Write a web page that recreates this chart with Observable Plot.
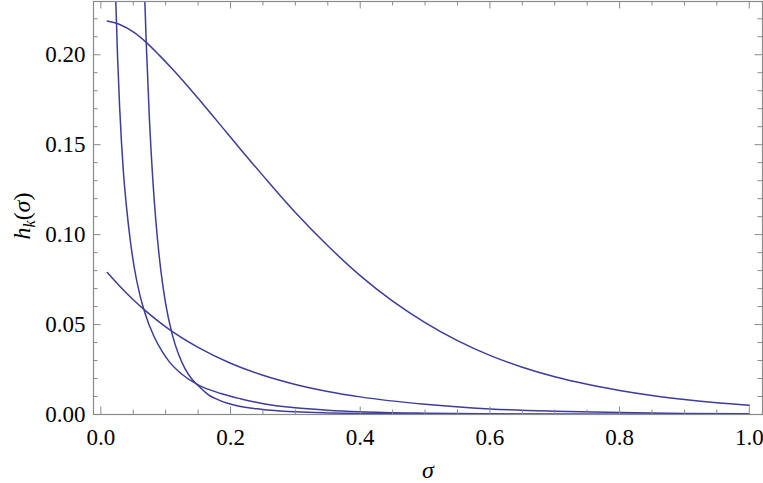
<!DOCTYPE html>
<html>
<head>
<meta charset="utf-8">
<script src="https://cdn.jsdelivr.net/npm/d3@7"></script>
<script src="https://cdn.jsdelivr.net/npm/@observablehq/plot@0.6"></script>
<style>
  html, body { margin: 0; padding: 0; background: #fff; }
  #chart { width: 763px; height: 483px; }
  #chart svg text { font-family: "Liberation Serif", "Times New Roman", Times, serif !important; }
</style>
</head>
<body>
<div id="chart"></div>
<script>
// ---- Data ----
const sigmaA = [0.01, 0.03, 0.05, 0.07, 0.09, 0.11, 0.13, 0.15, 0.17, 0.19, 0.21, 0.23, 0.25, 0.30, 0.35, 0.40, 0.45, 0.50, 0.55, 0.60, 0.65, 0.70, 0.75, 0.80, 0.85, 0.90, 0.95, 1.00];
const hA     = [0.2187, 0.2167, 0.2127, 0.2069, 0.1998, 0.1922, 0.1842, 0.1758, 0.1672, 0.1585, 0.1498, 0.1412, 0.1328, 0.1123, 0.0938, 0.0772, 0.0630, 0.0511, 0.0411, 0.0329, 0.0263, 0.0210, 0.0168, 0.0134, 0.0106, 0.0084, 0.0066, 0.0052];

const sigmaB = [0.01, 0.03, 0.05, 0.07, 0.10, 0.15, 0.20, 0.25, 0.30, 0.35, 0.40, 0.50, 0.60, 0.70, 0.80, 0.90, 1.00];
const hB     = [0.0789, 0.0710, 0.0638, 0.0573, 0.0487, 0.0373, 0.0285, 0.0218, 0.0167, 0.0128, 0.0098, 0.0057, 0.0031, 0.0018, 0.00105, 0.00062, 0.00037];

const sigmaC = [0.0231, 0.0258, 0.0290, 0.0319, 0.0350, 0.0400, 0.0450, 0.0514, 0.0600, 0.0684, 0.0822, 0.0950, 0.1054, 0.1250, 0.1508, 0.185, 0.215, 0.2467, 0.30, 0.35, 0.40, 0.50, 0.60, 0.80, 1.00];
const hC     = [0.2296, 0.1990, 0.1710, 0.1510, 0.1340, 0.1140, 0.0980, 0.0820, 0.0668, 0.0560, 0.0432, 0.0348, 0.0294, 0.0224, 0.0163, 0.0117, 0.0088, 0.0063, 0.0037, 0.0024, 0.00155, 0.00073, 0.00037, 0.00012, 0.00004];

const sigmaD = [0.0679, 0.070, 0.075, 0.080, 0.085, 0.090, 0.095, 0.100, 0.110, 0.120, 0.130, 0.140, 0.1508, 0.165, 0.185, 0.210, 0.2467, 0.30, 0.35, 0.40, 0.50, 0.60, 0.80, 1.00];
const hD     = [0.2296, 0.2069, 0.1637, 0.1315, 0.1070, 0.0881, 0.0733, 0.0615, 0.0447, 0.0333, 0.0254, 0.0199, 0.0158, 0.0112, 0.0076, 0.0049, 0.0029, 0.00147, 0.00087, 0.00055, 0.00026, 0.00014, 0.00005, 0.00002];

const xMajorTicks = [0, 0.2, 0.4, 0.6, 0.8, 1.0];
const xMinorTicks = [0.05, 0.1, 0.15, 0.25, 0.3, 0.35, 0.45, 0.5, 0.55, 0.65, 0.7, 0.75, 0.85, 0.9, 0.95];
const yMajorTicks = [0, 0.05, 0.10, 0.15, 0.20];
const yMinorTicks = [0.01, 0.02, 0.03, 0.04, 0.06, 0.07, 0.08, 0.09, 0.11, 0.12, 0.13, 0.14, 0.16, 0.17, 0.18, 0.19, 0.21, 0.22];
const xTickLabels = ["0.0", "0.2", "0.4", "0.6", "0.8", "1.0"];
const yTickLabels = ["0.00", "0.05", "0.10", "0.15", "0.20"];

// ---- Build table ----
function toRows(xs, ys, name) { return xs.map((x, i) => ({x, y: ys[i], series: name})); }
const rows = [
  ...toRows(sigmaA, hA, "A"),
  ...toRows(sigmaB, hB, "B"),
  ...toRows(sigmaC, hC, "C"),
  ...toRows(sigmaD, hD, "D")
];

const W = 763, H = 483;
const mL = 93, mR = 1, mT = 1, mB = 69;
const fw = W - mL - mR, fh = H - mT - mB;
const frameColor = "#8a8a8a";
const lineColor = "#3d3d99";
const font = "Liberation Serif";
const majorLen = 7.5, minorLen = 4.5;

const xLabelRows = xMajorTicks.map((v, i) => ({v, t: xTickLabels[i]}));
const yLabelRows = yMajorTicks.map((v, i) => ({v, t: yTickLabels[i]}));

const svg = Plot.plot({
  width: W,
  height: H,
  marginLeft: mL, marginRight: mR, marginTop: mT, marginBottom: mB,
  style: {fontFamily: font, background: "#fff", overflow: "visible"},
  x: {domain: [-0.0113, 1.0204], axis: null},
  y: {domain: [0, 0.2296], axis: null},
  marks: [
    Plot.line(rows, {x: "x", y: "y", z: "series", stroke: lineColor, strokeWidth: 1.5, curve: "monotone-x", clip: true}),
    // ticks (inside the frame, all four sides)
    Plot.tickX(xMajorTicks, {x: d => d, stroke: frameColor, insetTop: fh - majorLen}),
    Plot.tickX(xMinorTicks, {x: d => d, stroke: frameColor, insetTop: fh - minorLen}),
    Plot.tickX(xMajorTicks, {x: d => d, stroke: frameColor, insetBottom: fh - majorLen}),
    Plot.tickX(xMinorTicks, {x: d => d, stroke: frameColor, insetBottom: fh - minorLen}),
    Plot.tickY(yMajorTicks, {y: d => d, stroke: frameColor, insetRight: fw - majorLen}),
    Plot.tickY(yMinorTicks, {y: d => d, stroke: frameColor, insetRight: fw - minorLen}),
    Plot.tickY(yMajorTicks, {y: d => d, stroke: frameColor, insetLeft: fw - majorLen}),
    Plot.tickY(yMinorTicks, {y: d => d, stroke: frameColor, insetLeft: fw - minorLen}),
    Plot.frame({stroke: frameColor, strokeWidth: 1.2}),
    // tick labels
    Plot.text(xLabelRows, {x: "v", text: "t", frameAnchor: "bottom", dy: 23, lineAnchor: "middle", fontSize: 23, fontFamily: font, fill: "#000"}),
    Plot.text(yLabelRows, {y: "v", text: "t", frameAnchor: "left", dx: -8, textAnchor: "end", lineAnchor: "middle", fontSize: 23, fontFamily: font, fill: "#000"}),
    // axis titles
    Plot.text(["σ"], {frameAnchor: "bottom", dy: 56, lineAnchor: "middle", fontSize: 24, fontFamily: font, fontStyle: "italic", fill: "#000"}),
    Plot.text(["h"], {frameAnchor: "left", dx: -71, dy: 8, rotate: -90, textAnchor: "middle", lineAnchor: "middle", fontSize: 24, fontFamily: font, fill: "#000"})
  ]
});

document.getElementById("chart").appendChild(svg);

// y title with subscript k: h_k(σ)
const ns = "http://www.w3.org/2000/svg";
d3.select(svg).selectAll("text")
  .filter(function() { return this.textContent === "h"; })
  .each(function() {
    const t = this;
    while (t.firstChild) t.removeChild(t.firstChild);
    const parts = [
      {s: "h", italic: true},
      {s: "k", italic: true, size: 16, dy: 5},
      {s: "(", dy: -5},
      {s: "σ", italic: true},
      {s: ")"}
    ];
    for (const p of parts) {
      const ts = document.createElementNS(ns, "tspan");
      ts.textContent = p.s;
      if (p.italic) ts.setAttribute("font-style", "italic");
      if (p.size) ts.setAttribute("font-size", p.size);
      if (p.dy) ts.setAttribute("dy", p.dy);
      t.appendChild(ts);
    }
  });
</script>
</body>
</html>
